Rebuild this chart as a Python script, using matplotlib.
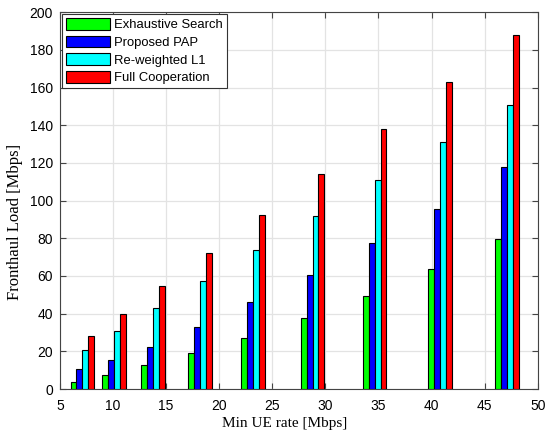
import numpy as np
import matplotlib.pyplot as plt

# Data
min_rate = [7.1, 10.1, 13.75, 18.2, 23.2, 28.8, 34.65, 40.8, 47.1]
exhaustive = [3.9, 7.3, 12.6, 19.1, 27.1, 37.5, 49.3, 63.7, 79.7]
proposed = [10.4, 15.6, 22.5, 32.9, 46.3, 60.5, 77.5, 95.3, 117.6]
reweighted = [20.7, 30.6, 43.1, 57.5, 73.9, 91.8, 110.9, 130.9, 150.7]
full_coop = [28.0, 39.8, 54.6, 72.0, 92.1, 114.3, 137.9, 162.7, 187.8]

series = [
    ("Exhaustive Search", exhaustive, "#00ff00"),
    ("Proposed PAP", proposed, "#0000ff"),
    ("Re-weighted L1", reweighted, "#00ffff"),
    ("Full Cooperation", full_coop, "#ff0000"),
]

plt.rcParams["font.family"] = ["Liberation Sans", "DejaVu Sans"]

fig = plt.figure(figsize=(5.45, 4.33), dpi=100)
ax = fig.add_axes([0.110, 0.1016, 0.8766, 0.8704])

bw = 0.55
x = np.array(min_rate)
for i, (name, vals, col) in enumerate(series):
    ax.bar(x + (i - 1.5) * bw, vals, width=bw, color=col, edgecolor="black",
           linewidth=0.8, label=name, zorder=3)

ax.set_xlim(5, 50)
ax.set_ylim(0, 200)
ax.set_xticks(range(5, 51, 5))
ax.set_yticks(range(0, 201, 20))
ax.grid(True, color="#e3e3e3", linewidth=0.9, zorder=0)
ax.tick_params(direction="in", top=True, right=True, labelsize=10,
               color="#444444", length=4)
ax.tick_params(axis="x", pad=7)
ax.tick_params(axis="y", pad=5)
for s in ax.spines.values():
    s.set_color("#444444")
    s.set_linewidth(0.8)

ax.set_xlabel("Min UE rate [Mbps]", family="Liberation Serif", fontsize=11)
ax.set_ylabel("Fronthaul Load [Mbps]", family="Liberation Serif", fontsize=12)
ax.xaxis.set_label_coords(0.47, -0.075)
ax.yaxis.set_label_coords(-0.078, 0.444)

leg = ax.legend(loc="upper left", fontsize=9.4, fancybox=False, framealpha=1,
                edgecolor="#333333", borderaxespad=0.15, handlelength=3.4,
                handleheight=1.0, labelspacing=0.33, handletextpad=0.3,
                borderpad=0.3)
leg.get_frame().set_linewidth(0.8)

fig.savefig("out.png", dpi=100)
